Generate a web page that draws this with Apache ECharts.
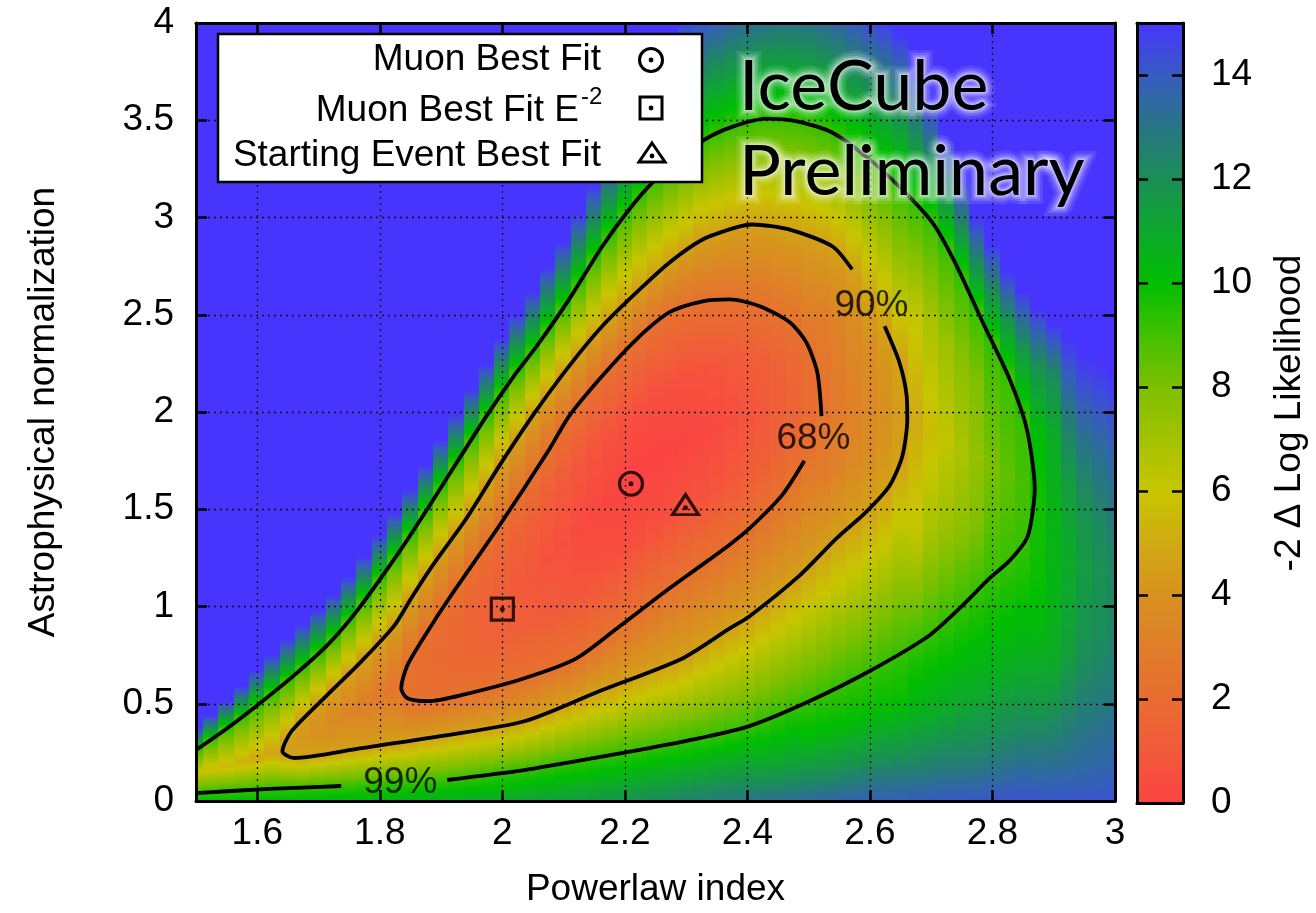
<!DOCTYPE html>
<html>
<head>
<meta charset="utf-8">
<script src="https://cdn.jsdelivr.net/npm/echarts@6/dist/echarts.min.js"></script>
<style>
  html, body { margin: 0; padding: 0; background: #ffffff; }
  #chart { width: 1316px; height: 913px; }
</style>
</head>
<body>
<div id="chart"></div>
<script>
// Powerlaw-index columns of the likelihood scan
const indexColumns = [1.500, 1.525, 1.550, 1.575, 1.600, 1.625, 1.650, 1.675, 1.700, 1.725,
  1.750, 1.775, 1.800, 1.825, 1.850, 1.875, 1.900, 1.925, 1.950, 1.975,
  2.000, 2.025, 2.050, 2.075, 2.100, 2.125, 2.150, 2.175, 2.200, 2.225,
  2.250, 2.275, 2.300, 2.325, 2.350, 2.375, 2.400, 2.425, 2.450, 2.475,
  2.500, 2.525, 2.550, 2.575, 2.600, 2.625, 2.650, 2.675, 2.700, 2.725,
  2.750, 2.775, 2.800, 2.825, 2.850, 2.875, 2.900, 2.925, 2.950, 2.975, 3.000];

// One profile per column: [astrophysical normalization, -2 Δ log L] pairs, bottom to top.
// 15 marks the saturated end of the colour scale.
const likelihoodProfiles = [
  [[0,10.0],[0.041,9.21],[0.15,6.0],[0.262,9.21],[0.372,15],[4,15]],
  [[0,10.0],[0.045,9.21],[0.165,5.7],[0.317,9.21],[0.44,15],[4,15]],
  [[0,10.0],[0.051,9.21],[0.18,5.45],[0.374,9.21],[0.514,15],[4,15]],
  [[0,10.05],[0.054,9.21],[0.20,5.2],[0.432,9.21],[0.59,15],[4,15]],
  [[0,10.1],[0.059,9.21],[0.22,4.95],[0.492,9.21],[0.672,15],[4,15]],
  [[0,10.15],[0.063,9.21],[0.25,4.72],[0.556,9.21],[0.75,15],[4,15]],
  [[0,10.2],[0.067,9.21],[0.238,4.61],[0.28,4.5],[0.325,4.61],[0.621,9.21],[0.831,15],[4,15]],
  [[0,10.25],[0.069,9.21],[0.228,4.61],[0.32,4.2],[0.42,4.61],[0.689,9.21],[0.905,15],[4,15]],
  [[0,10.3],[0.072,9.21],[0.24,4.61],[0.37,3.9],[0.499,4.61],[0.759,9.21],[0.979,15],[4,15]],
  [[0,10.35],[0.075,9.21],[0.251,4.61],[0.41,3.6],[0.578,4.61],[0.84,9.21],[1.06,15],[4,15]],
  [[0,10.4],[0.079,9.21],[0.262,4.61],[0.46,3.3],[0.656,4.61],[0.931,9.21],[1.153,15],[4,15]],
  [[0,10.45],[0.084,9.21],[0.274,4.61],[0.50,3.02],[0.735,4.61],[1.032,9.21],[1.255,15],[4,15]],
  [[0,10.5],[0.089,9.21],[0.286,4.61],[0.55,2.75],[0.821,4.61],[1.141,9.21],[1.364,15],[4,15]],
  [[0,10.55],[0.093,9.21],[0.298,4.61],[0.59,2.48],[0.908,4.61],[1.251,9.21],[1.48,15],[4,15]],
  [[0,10.6],[0.097,9.21],[0.303,4.61],[0.526,2.3],[0.62,2.25],[0.724,2.3],[1.036,4.61],[1.368,9.21],[1.599,15],[4,15]],
  [[0,10.65],[0.102,9.21],[0.322,4.61],[0.514,2.3],[0.6,2.13],[0.685,2.07],[0.77,2.13],[0.856,2.3],[1.157,4.61],[1.489,9.21],[1.725,15],[4,15]],
  [[0,10.7],[0.105,9.21],[0.335,4.61],[0.525,2.3],[0.64,2.0],[0.75,1.9],[0.86,2.0],[0.978,2.3],[1.271,4.61],[1.613,9.21],[1.855,15],[4,15]],
  [[0,10.75],[0.114,9.21],[0.349,4.61],[0.539,2.3],[0.68,1.87],[0.815,1.72],[0.955,1.87],[1.096,2.3],[1.381,4.61],[1.736,9.21],[1.985,15],[4,15]],
  [[0,10.8],[0.124,9.21],[0.364,4.61],[0.558,2.3],[0.72,1.74],[0.88,1.55],[1.04,1.74],[1.21,2.3],[1.496,4.61],[1.86,9.21],[2.116,15],[4,15]],
  [[0,10.9],[0.134,9.21],[0.377,4.61],[0.579,2.3],[0.765,1.6],[0.95,1.37],[1.137,1.6],[1.324,2.3],[1.622,4.61],[1.984,9.21],[2.245,15],[4,15]],
  [[0,11.0],[0.144,9.21],[0.39,4.61],[0.6,2.3],[0.81,1.48],[1.02,1.2],[1.23,1.48],[1.439,2.3],[1.747,4.61],[2.098,9.21],[2.377,15],[4,15]],
  [[0,11.1],[0.155,9.21],[0.404,4.61],[0.622,2.3],[0.86,1.34],[1.095,1.02],[1.33,1.34],[1.56,2.3],[1.866,4.61],[2.211,9.21],[2.5,15],[4,15]],
  [[0,11.2],[0.167,9.21],[0.428,4.61],[0.648,2.3],[0.91,1.21],[1.17,0.85],[1.43,1.21],[1.68,2.3],[1.983,4.61],[2.313,9.21],[2.618,15],[4,15]],
  [[0,11.3],[0.18,9.21],[0.459,4.61],[0.678,2.3],[0.96,1.08],[1.245,0.67],[1.52,1.08],[1.8,2.3],[2.09,4.61],[2.424,9.21],[2.745,15],[4,15]],
  [[0,11.4],[0.194,9.21],[0.491,4.61],[0.708,2.3],[1.01,0.95],[1.32,0.5],[1.62,0.95],[1.931,2.3],[2.197,4.61],[2.538,9.21],[2.873,15],[4,15]],
  [[0,11.5],[0.208,9.21],[0.522,4.61],[0.742,2.3],[1.07,0.84],[1.395,0.35],[1.72,0.84],[2.04,2.3],[2.297,4.61],[2.66,9.21],[3.02,15],[4,15]],
  [[0,11.6],[0.222,9.21],[0.554,4.61],[0.801,2.3],[1.14,0.74],[1.47,0.22],[1.8,0.74],[2.135,2.3],[2.388,4.61],[2.786,9.21],[3.165,15],[4,15]],
  [[0,11.75],[0.236,9.21],[0.585,4.61],[0.86,2.3],[1.2,0.65],[1.545,0.1],[1.885,0.65],[2.225,2.3],[2.478,4.61],[2.903,9.21],[3.31,15],[4,15]],
  [[0,11.9],[0.25,9.21],[0.616,4.61],[0.919,2.3],[1.27,0.58],[1.62,0.0],[1.96,0.58],[2.31,2.3],[2.556,4.61],[3.011,9.21],[3.456,15],[4,15]],
  [[0,12.05],[0.264,9.21],[0.647,4.61],[0.979,2.3],[1.335,0.58],[1.69,0.0],[2.04,0.58],[2.389,2.3],[2.632,4.61],[3.106,9.21],[3.58,15],[4,15]],
  [[0,12.2],[0.278,9.21],[0.678,4.61],[1.039,2.3],[1.40,0.6],[1.76,0.02],[2.11,0.6],[2.454,2.3],[2.703,4.61],[3.192,9.21],[3.7,15],[4,15]],
  [[0,12.35],[0.294,9.21],[0.709,4.61],[1.098,2.3],[1.455,0.61],[1.81,0.05],[2.16,0.61],[2.515,2.3],[2.773,4.61],[3.259,9.21],[3.85,15],[4,15]],
  [[0,12.5],[0.309,9.21],[0.745,4.61],[1.156,2.3],[1.51,0.65],[1.86,0.1],[2.2,0.65],[2.541,2.3],[2.828,4.61],[3.325,9.21],[4,14.6]],
  [[0,12.65],[0.325,9.21],[0.795,4.61],[1.212,2.3],[1.55,0.71],[1.89,0.18],[2.23,0.71],[2.567,2.3],[2.889,4.61],[3.387,9.21],[4,14.25]],
  [[0,12.8],[0.344,9.21],[0.845,4.61],[1.269,2.3],[1.6,0.8],[1.92,0.3],[2.25,0.8],[2.574,2.3],[2.913,4.61],[3.429,9.21],[4,13.9]],
  [[0,12.9],[0.363,9.21],[0.895,4.61],[1.328,2.3],[1.64,0.94],[1.95,0.48],[2.26,0.94],[2.576,2.3],[2.943,4.61],[3.466,9.21],[4,13.6]],
  [[0,13.0],[0.383,9.21],[0.943,4.61],[1.392,2.3],[1.69,1.1],[1.98,0.7],[2.27,1.1],[2.558,2.3],[2.959,4.61],[3.485,9.21],[4,13.3]],
  [[0,13.1],[0.19,11.0],[0.414,9.21],[1.005,4.61],[1.471,2.3],[1.735,1.29],[2.0,0.95],[2.27,1.29],[2.536,2.3],[2.957,4.61],[3.504,9.21],[4,13.15]],
  [[0,13.2],[0.2,11.0],[0.446,9.21],[1.069,4.61],[1.554,2.3],[1.79,1.51],[2.03,1.25],[2.26,1.51],[2.494,2.3],[2.946,4.61],[3.502,9.21],[4,13.0]],
  [[0,13.3],[0.17,11.4],[0.479,9.21],[1.133,4.61],[1.662,2.3],[1.855,1.76],[2.05,1.58],[2.245,1.76],[2.439,2.3],[2.931,4.61],[3.495,9.21],[4,13.0]],
  [[0,13.4],[0.15,11.8],[0.32,10.2],[0.513,9.21],[1.207,4.61],[1.8,2.3],[2.06,1.95],[2.325,2.3],[2.899,4.61],[3.476,9.21],[4,13.1]],
  [[0,13.5],[0.17,11.7],[0.36,10.1],[0.551,9.21],[1.286,4.61],[1.68,2.9],[2.07,2.35],[2.47,2.9],[2.868,4.61],[3.45,9.21],[4,13.3]],
  [[0,13.6],[0.2,11.6],[0.4,10.0],[0.59,9.21],[1.363,4.61],[1.72,3.2],[2.08,2.75],[2.45,3.2],[2.81,4.61],[3.411,9.21],[4,13.6]],
  [[0,13.7],[0.21,11.7],[0.42,10.0],[0.629,9.21],[1.434,4.61],[1.75,3.5],[2.06,3.15],[2.385,3.5],[2.711,4.61],[3.355,9.21],[4,14.0]],
  [[0,13.8],[0.22,11.8],[0.45,10.0],[0.667,9.21],[1.508,4.61],[1.77,3.8],[2.04,3.55],[2.31,3.8],[2.573,4.61],[3.296,9.21],[4,14.4]],
  [[0,13.85],[0.235,11.8],[0.475,10.0],[0.716,9.21],[1.596,4.61],[1.81,4.15],[2.02,4.0],[2.23,4.15],[2.433,4.61],[3.225,9.21],[4,14.8]],
  [[0,13.9],[0.25,11.8],[0.5,10.0],[0.761,9.21],[1.752,4.61],[1.99,4.45],[2.227,4.61],[3.152,9.21],[3.95,15],[4,15]],
  [[0,13.95],[0.2,12.3],[0.45,10.6],[0.64,9.9],[0.81,9.21],[1.35,6.3],[1.95,5.0],[2.5,6.2],[3.066,9.21],[3.78,15],[4,15]],
  [[0,14.0],[0.15,12.8],[0.41,11.0],[0.67,10.0],[0.86,9.21],[1.35,7.0],[1.9,5.6],[2.45,6.8],[2.981,9.21],[3.6,15],[4,15]],
  [[0,14.05],[0.18,12.7],[0.45,11.0],[0.73,9.95],[0.931,9.21],[1.38,7.3],[1.85,6.2],[2.35,7.2],[2.846,9.21],[3.4,15],[4,15]],
  [[0,14.1],[0.2,12.6],[0.5,11.0],[0.8,9.9],[1.005,9.21],[1.4,7.6],[1.8,6.8],[2.25,7.6],[2.693,9.21],[3.2,15],[4,15]],
  [[0,14.15],[0.22,12.55],[0.55,10.9],[0.87,9.85],[1.081,9.21],[1.42,7.9],[1.76,7.4],[2.15,7.9],[2.523,9.21],[3.0,15],[4,15]],
  [[0,14.2],[0.25,12.5],[0.6,10.8],[0.95,9.8],[1.158,9.21],[1.72,8.0],[2.355,9.21],[2.6,11.8],[2.86,15],[4,15]],
  [[0,14.25],[0.27,12.55],[0.65,10.8],[1.02,9.75],[1.228,9.21],[1.67,8.5],[2.189,9.21],[2.45,11.6],[2.72,15],[4,15]],
  [[0,14.3],[0.3,12.6],[0.7,10.8],[1.1,9.7],[1.325,9.21],[1.62,9.0],[1.968,9.21],[2.3,11.5],[2.62,15],[4,15]],
  [[0,14.25],[0.2,13.1],[0.5,11.6],[0.85,10.3],[1.15,9.85],[1.5,9.7],[1.9,10.2],[2.22,11.8],[2.53,15],[4,15]],
  [[0,14.2],[0.15,13.4],[0.41,12.2],[0.67,11.0],[1.0,10.5],[1.4,10.4],[1.86,10.8],[2.19,12.2],[2.45,15],[4,15]],
  [[0,14.2],[0.15,13.5],[0.45,12.4],[0.75,11.4],[1.05,11.0],[1.3,10.9],[1.65,11.5],[2.0,12.9],[2.38,15],[4,15]],
  [[0,14.2],[0.15,13.6],[0.5,12.6],[0.85,11.8],[1.2,11.5],[1.5,11.9],[1.8,12.9],[2.05,14.0],[2.3,15],[4,15]],
  [[0,14.25],[0.15,13.7],[0.5,12.8],[0.85,12.1],[1.18,11.9],[1.45,12.3],[1.73,13.1],[1.98,14.0],[2.26,15],[4,15]],
  [[0,14.3],[0.15,13.8],[0.5,13.0],[0.85,12.4],[1.15,12.3],[1.4,12.7],[1.66,13.3],[1.91,14.0],[2.2,15],[4,15]]
];

// Confidence contours (68%, 90%, 99%), as [index, normalization]
const contour68 = [[2.493,1.749],[2.457,1.574],[2.403,1.400],[2.371,1.318],[2.322,1.205],[2.268,1.082],
  [2.191,0.897],[2.121,0.733],[2.036,0.631],[1.933,0.544],[1.878,0.513],[1.845,0.528],[1.835,0.579],
  [1.845,0.697],[1.878,0.872],[1.913,1.041],[1.995,1.415],[2.077,1.810],[2.109,1.979],[2.163,2.185],
  [2.219,2.374],[2.273,2.513],[2.327,2.569],[2.371,2.579],[2.420,2.544],[2.469,2.462],[2.496,2.359],
  [2.514,2.205],[2.521,1.979]];
const contour90 = [[2.624,2.441],[2.648,2.256],[2.660,2.082],[2.661,1.964],[2.653,1.774],[2.632,1.621],
  [2.594,1.487],[2.545,1.349],[2.485,1.159],[2.403,0.949],[2.371,0.887],[2.294,0.733],[2.158,0.564],
  [2.036,0.410],[1.878,0.323],[1.770,0.272],[1.660,0.221],[1.641,0.256],[1.656,0.359],[1.714,0.544],
  [1.770,0.718],[1.824,0.903],[1.851,1.041],[1.886,1.210],[1.941,1.451],[1.995,1.723],[2.049,1.979],
  [2.109,2.236],[2.163,2.441],[2.219,2.615],[2.273,2.769],[2.327,2.887],[2.382,2.949],[2.408,2.964],
  [2.469,2.938],[2.539,2.851],[2.571,2.733]];
const contour99 = [[1.500,0.262],[1.551,0.374],[1.598,0.487],[1.660,0.646],[1.714,0.800],[1.763,0.979],
  [1.832,1.282],[1.878,1.503],[1.913,1.677],[1.974,1.979],[2.020,2.190],[2.056,2.338],[2.109,2.579],
  [2.163,2.851],[2.207,3.041],[2.245,3.179],[2.289,3.297],[2.330,3.400],[2.376,3.467],[2.431,3.508],
  [2.485,3.492],[2.539,3.436],[2.594,3.313],[2.648,3.159],[2.702,2.974],[2.738,2.774],[2.784,2.462],
  [2.828,2.169],[2.856,1.913],[2.869,1.605],[2.864,1.451],[2.856,1.349],[2.828,1.236],[2.795,1.144],
  [2.751,1.005],[2.697,0.851],[2.599,0.667],[2.501,0.513],[2.403,0.385],[2.322,0.323],[2.240,0.272],
  [2.158,0.226],[2.093,0.190],[2.036,0.159],[1.910,0.108]];
const contour99Tail = [[1.737,0.077],[1.620,0.062],[1.500,0.041]];

const contourLabelText = ['99%', '90%', '68%'];
const contourLabelPoints = [[1.8335, 0.095], [2.6024, 2.5436], [2.5078, 1.8615]];

// Best-fit points
const muonBestFit = [[2.21, 1.631]];
const muonBestFitE2 = [[2.0, 0.986]];
const startingEventBestFit = [[2.299, 1.508]];

// Colour scale, one colour per unit of -2 Δ log L from 0 to 15
const colorbarLevels = [0,1,2,3,4,5,6,7,8,9,10,11,12,13,14];
const palette = ['#fb4343','#f25a3a','#e96c31','#e07e29','#d8911f','#d0aa12','#c8c600','#a4c200',
  '#7cc000','#44c000','#00be00','#0ea82e','#1a8f55','#287585','#375cc0','#4735fd'];

const FONT = '"Liberation Sans", Arial, Helvetica, sans-serif';
const TITLE_FONT = 'Lato, "Open Sans", sans-serif';

const paletteRgb = palette.map(h => {
  const n = parseInt(h.slice(1), 16);
  return [(n >> 16) & 255, (n >> 8) & 255, n & 255];
});
function colorAt(v) {
  const t = Math.max(0, Math.min(15, v));
  const i = Math.min(14, Math.floor(t));
  const f = t - i;
  const a = paletteRgb[i], b = paletteRgb[i + 1];
  return 'rgb(' + a.map((c, k) => Math.round(c + (b[k] - c) * f)).join(',') + ')';
}
// Gradient stops along one column: knots plus every palette level crossed between them
function profileStops(knots) {
  const stops = [];
  const push = (y, v) => stops.push({ offset: Math.max(0, Math.min(1, y / 4)), color: colorAt(v) });
  for (let j = 0; j < knots.length; j++) {
    const [y0, v0] = knots[j];
    push(y0, v0);
    if (j + 1 < knots.length) {
      const [y1, v1] = knots[j + 1];
      const lo = Math.min(v0, v1), hi = Math.max(v0, v1);
      const levels = [];
      for (let L = Math.max(0, Math.ceil(lo)); L <= Math.min(15, Math.floor(hi)); L++) {
        if (L > lo && L < hi) levels.push(L);
      }
      if (v1 < v0) levels.reverse();
      levels.forEach(L => push(y0 + (L - v0) / (v1 - v0) * (y1 - y0), L));
    }
  }
  return stops;
}
const columnStops = likelihoodProfiles.map(profileStops);
const HALF_STEP = 0.0125;

const chart = echarts.init(document.getElementById('chart'), null, { renderer: 'canvas' });

const frameLine = { show: true, onZero: false, lineStyle: { color: '#000', width: 3 } };
const innerTick = { show: true, inside: true, length: 11, lineStyle: { color: '#000', width: 2.5 } };
const textBase = { fontFamily: FONT, fontSize: 37, color: '#000' };
const dottedGrid = { show: true, lineStyle: { color: '#111', width: 1.3, type: [2, 4] } };

function contourSeries(data) {
  return {
    type: 'line', xAxisIndex: 0, yAxisIndex: 0, data: data,
    showSymbol: false, symbol: 'none', smooth: 0.25, silent: true, z: 6,
    lineStyle: { color: '#000', width: 3.8 }
  };
}
function markerSeries(name, data, symbol, size, offset) {
  return {
    name: name, type: 'scatter', xAxisIndex: 0, yAxisIndex: 0, data: data,
    symbol: symbol, symbolSize: size, symbolOffset: offset || [0, 0], silent: true, z: 7,
    itemStyle: { color: 'rgba(0,0,0,0)', borderColor: '#000', borderWidth: 3.2 }
  };
}
// Title text with a soft white halo built from widening translucent strokes
function titleText(text, y) {
  const base = { text: text, x: 739, y: y, textAlign: 'left', textVerticalAlign: 'middle',
    font: '70px ' + TITLE_FONT, lineJoin: 'round' };
  const halo = [[18, 0.10], [12, 0.16], [7, 0.24], [3, 0.35]];
  return halo.map(([w, a]) => ({ type: 'text', z: 22, style: Object.assign({}, base, {
      fill: 'rgba(255,255,255,0)', stroke: 'rgba(255,255,255,' + a + ')', lineWidth: w }) }))
    .concat([{ type: 'text', z: 23, style: Object.assign({}, base, { fill: '#000' }) }]);
}

const option = {
  animation: false,
  backgroundColor: '#ffffff',
  grid: [
    { left: 196, top: 23, width: 919, height: 780 },
    { left: 1137, top: 23, width: 46, height: 780 }
  ],
  xAxis: [
    { type: 'value', gridIndex: 0, min: 1.5, max: 3, splitNumber: 7, position: 'bottom', z: 5,
      axisLine: frameLine, axisTick: innerTick,
      axisLabel: Object.assign({ showMinLabel: false, margin: 14 }, textBase),
      splitLine: dottedGrid,
      name: 'Powerlaw index', nameLocation: 'middle', nameGap: 70, nameTextStyle: textBase },
    { type: 'value', gridIndex: 0, min: 1.5, max: 3, splitNumber: 7, position: 'top', z: 5,
      axisLine: frameLine, axisTick: innerTick, axisLabel: { show: false }, splitLine: { show: false } },
    { type: 'value', gridIndex: 1, min: 0, max: 1, position: 'bottom', z: 5,
      axisLine: frameLine, axisTick: { show: false }, axisLabel: { show: false }, splitLine: { show: false } },
    { type: 'value', gridIndex: 1, min: 0, max: 1, position: 'top', z: 5,
      axisLine: frameLine, axisTick: { show: false }, axisLabel: { show: false }, splitLine: { show: false } }
  ],
  yAxis: [
    { type: 'value', gridIndex: 0, min: 0, max: 4, interval: 0.5, position: 'left', z: 5,
      axisLine: frameLine, axisTick: innerTick,
      axisLabel: Object.assign({ margin: 22 }, textBase),
      splitLine: dottedGrid,
      name: 'Astrophysical normalization', nameLocation: 'middle', nameRotate: 90, nameGap: 134,
      nameTextStyle: textBase },
    { type: 'value', gridIndex: 0, min: 0, max: 4, interval: 0.5, position: 'right', z: 5,
      axisLine: frameLine, axisTick: innerTick, axisLabel: { show: false }, splitLine: { show: false } },
    { type: 'value', gridIndex: 1, min: 0, max: 15, interval: 2, position: 'right', z: 5,
      axisLine: frameLine, axisTick: innerTick,
      axisLabel: Object.assign({ margin: 28, showMaxLabel: false }, textBase),
      splitLine: { show: false },
      name: '-2 \u0394 Log Likelihood', nameLocation: 'middle', nameRotate: 90, nameGap: 88,
      nameTextStyle: textBase },
    { type: 'value', gridIndex: 1, min: 0, max: 15, interval: 2, position: 'left', z: 5,
      axisLine: frameLine, axisTick: innerTick, axisLabel: { show: false }, splitLine: { show: false } }
  ],
  series: [
    // likelihood surface, one gradient column per powerlaw-index sample
    {
      type: 'custom', xAxisIndex: 0, yAxisIndex: 0, z: 1, silent: true,
      data: indexColumns.map((x, i) => [x, 2, i]),
      encode: { x: 0, y: 1 },
      renderItem: function (params, api) {
        const i = api.value(2);
        const x = indexColumns[i];
        const pTop = api.coord([Math.max(1.5, x - HALF_STEP), 4]);
        const pBot = api.coord([Math.min(3.0, x + HALF_STEP), 0]);
        const left = Math.floor(pTop[0]);
        const right = Math.ceil(pBot[0]) + (i < indexColumns.length - 1 ? 1 : 0);
        return {
          type: 'rect',
          shape: { x: left, y: pTop[1], width: right - left, height: pBot[1] - pTop[1] },
          style: { fill: new echarts.graphic.LinearGradient(0, 1, 0, 0, columnStops[i]) }
        };
      }
    },
    // colour bar
    {
      type: 'custom', xAxisIndex: 2, yAxisIndex: 2, z: 1, silent: true,
      data: colorbarLevels.map(v => [0.5, v]),
      encode: { x: 0, y: 1 },
      renderItem: function (params, api) {
        const v = api.value(1);
        const p0 = api.coord([0, v + 1]);
        const p1 = api.coord([1, v]);
        return {
          type: 'rect',
          shape: { x: p0[0], y: Math.floor(p0[1]), width: p1[0] - p0[0], height: Math.ceil(p1[1]) - Math.floor(p0[1]) + 1 },
          style: { fill: new echarts.graphic.LinearGradient(0, 1, 0, 0, [
            { offset: 0, color: palette[v] }, { offset: 1, color: palette[v + 1] }]) }
        };
      }
    },
    contourSeries(contour68),
    contourSeries(contour90),
    contourSeries(contour99),
    contourSeries(contour99Tail),
    {
      type: 'scatter', xAxisIndex: 0, yAxisIndex: 0, data: contourLabelPoints, silent: true, z: 7,
      symbolSize: 1, itemStyle: { color: 'rgba(0,0,0,0)' },
      label: Object.assign({ show: true, position: 'inside',
        formatter: p => contourLabelText[p.dataIndex] }, textBase)
    },
    markerSeries('Muon Best Fit', muonBestFit, 'circle', 23),
    markerSeries('Muon Best Fit E-2', muonBestFitE2, 'rect', 22),
    markerSeries('Starting Event Best Fit', startingEventBestFit, 'triangle', [26, 20], [0, -3]),
    {
      type: 'scatter', xAxisIndex: 0, yAxisIndex: 0, silent: true, z: 8,
      data: muonBestFit.concat(muonBestFitE2, startingEventBestFit),
      symbol: 'circle', symbolSize: 5, itemStyle: { color: '#000' }
    }
  ],
  graphic: {
    elements: [
      { type: 'rect', z: 20, shape: { x: 218, y: 34, width: 484, height: 148 },
        style: { fill: '#ffffff', stroke: '#000', lineWidth: 2.5 } },
      { type: 'text', z: 21, style: { text: 'Muon Best Fit', x: 601, y: 60, textAlign: 'right',
        textVerticalAlign: 'middle', font: '37px ' + FONT, fill: '#000' } },
      { type: 'text', z: 21, style: { text: 'Muon Best Fit E', x: 579, y: 111, textAlign: 'right',
        textVerticalAlign: 'middle', font: '37px ' + FONT, fill: '#000' } },
      { type: 'text', z: 21, style: { text: '-2', x: 581, y: 97, textAlign: 'left',
        textVerticalAlign: 'middle', font: '24px ' + FONT, fill: '#000' } },
      { type: 'text', z: 21, style: { text: 'Starting Event Best Fit', x: 601, y: 156, textAlign: 'right',
        textVerticalAlign: 'middle', font: '37px ' + FONT, fill: '#000' } },
      { type: 'circle', z: 21, shape: { cx: 651, cy: 60, r: 11.5 },
        style: { fill: 'rgba(0,0,0,0)', stroke: '#000', lineWidth: 3 } },
      { type: 'circle', z: 21, shape: { cx: 651, cy: 60, r: 2.4 }, style: { fill: '#000' } },
      { type: 'rect', z: 21, shape: { x: 640, y: 97, width: 22, height: 22 },
        style: { fill: 'rgba(0,0,0,0)', stroke: '#000', lineWidth: 3 } },
      { type: 'circle', z: 21, shape: { cx: 651, cy: 108, r: 2.4 }, style: { fill: '#000' } },
      { type: 'polygon', z: 21, shape: { points: [[652, 143], [665, 162], [639, 162]] },
        style: { fill: 'rgba(0,0,0,0)', stroke: '#000', lineWidth: 3 } },
      { type: 'circle', z: 21, shape: { cx: 652, cy: 156, r: 2.4 }, style: { fill: '#000' } }
    ].concat(titleText('IceCube', 87), titleText('Preliminary', 172))
  }
};

chart.setOption(option);
</script>
</body>
</html>
